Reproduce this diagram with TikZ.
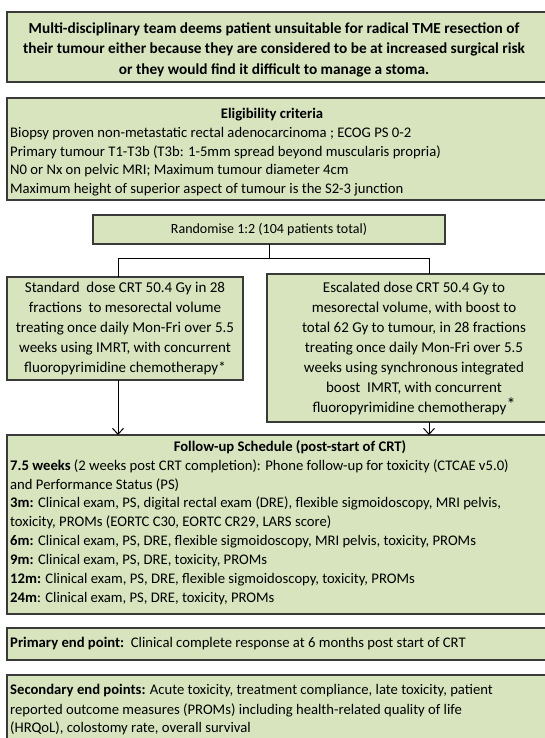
\documentclass[tikz,border=0pt]{standalone}
\usepackage{fontspec}
\setmainfont{Carlito}
\usetikzlibrary{arrows.meta,shadows}
\definecolor{boxgreen}{HTML}{D7E4BD}
\definecolor{boxline}{HTML}{3A3A3A}
\begin{document}
\begin{tikzpicture}[x=1pt,y=-1pt,
  box/.style={draw=boxline, line width=1.1pt, fill=boxgreen, anchor=north west, inner sep=0pt, outer sep=0pt,
    drop shadow={shadow xshift=-1.4pt, shadow yshift=-1.4pt, fill=black!65, opacity=1}},
  txt/.style={inner sep=0pt, font=\fontsize{14.67}{18.9}\selectfont},
  ctxt/.style={txt, align=center},
  btxt/.style={ctxt, font=\fontsize{15}{20}\selectfont},
  ltxt/.style={txt, align=left, anchor=west},
  link/.style={draw=black, line width=1pt},
  arr/.style={link, -{Straight Barb[length=6pt,width=11pt]}}]
\useasboundingbox (0,0) rectangle (545,738);
% boxes
\node[box, minimum width=541pt, minimum height=70pt] (mdt) at (7,12) {};
\node[box, minimum width=541pt, minimum height=102pt] (elig) at (7,98) {};
\node[box, minimum width=352pt, minimum height=29pt] (rand) at (93,215) {};
\node[box, minimum width=236pt, minimum height=103pt] (std) at (7,277) {};
\node[box, minimum width=301pt, minimum height=148pt] (esc) at (267,274) {};
\node[box, minimum width=541pt, minimum height=179pt] (fu) at (7,435) {};
\node[box, minimum width=541pt, minimum height=32pt] (prim) at (7,628) {};
\node[box, minimum width=541pt, minimum height=70pt] (sec) at (7,675) {};
% texts
\node[ctxt, font=\fontsize{15.3}{20.5}\selectfont\bfseries] (mdtt) at (274,49.5) {Multi-disciplinary team deems patient unsuitable for radical TME resection of\\their tumour either because they are considered to be at increased surgical risk\\or they would find it difficult to manage a stoma.};
\node[ctxt, font=\fontsize{14.67}{18.9}\selectfont\bfseries] (eligh) at (272,115) {Eligibility criteria};
\node[ltxt] (elig1) at (10,134) {Biopsy proven non-metastatic rectal adenocarcinoma ; ECOG PS 0-2};
\node[ltxt] (elig2) at (10,152.5) {Primary tumour T1-T3b (T3b: 1-5mm spread beyond muscularis propria)};
\node[ltxt] (elig3) at (10,171) {N0 or Nx on pelvic MRI; Maximum tumour diameter 4cm};
\node[ltxt] (elig4) at (10,189.5) {Maximum height of superior aspect of tumour is the S2-3 junction};
\node[ctxt, font=\fontsize{14}{16}\selectfont] (randt) at (269,229.5) {Randomise 1:2 (104 patients total)};
\node[btxt] (stdt) at (125,328.5) {Standard\ \ dose CRT 50.4 Gy in 28\\fractions\ \ to mesorectal volume\\treating once daily Mon-Fri over 5.5\\weeks using IMRT, with concurrent\\fluoropyrimidine chemotherapy*};
\node[btxt] (esct) at (414,348) {Escalated dose CRT 50.4 Gy to\\mesorectal volume, with boost to\\total 62 Gy to tumour, in 28 fractions\\treating once daily Mon-Fri over 5.5\\weeks using synchronous integrated\\boost\ \ IMRT, with concurrent\\fluoropyrimidine chemotherapy\raisebox{1.5pt}{\fontsize{18}{18}\selectfont *}};
\node[ctxt, font=\fontsize{14.67}{18.9}\selectfont\bfseries] (fuh) at (290,447) {Follow-up Schedule (post-start of CRT)};
\node[ltxt] (fu1) at (10,466) {\textbf{7.5 weeks} (2 weeks post CRT completion): Phone follow-up for toxicity (CTCAE v5.0)};
\node[ltxt] (fu2) at (10,484.9) {and Performance Status (PS)};
\node[ltxt] (fu3) at (10,503.8) {\textbf{3m:} Clinical exam, PS, digital rectal exam (DRE), flexible sigmoidoscopy, MRI pelvis,};
\node[ltxt] (fu4) at (10,522.7) {toxicity, PROMs (EORTC C30, EORTC CR29, LARS score)};
\node[ltxt] (fu5) at (10,541.6) {\textbf{6m:} Clinical exam, PS, DRE, flexible sigmoidoscopy, MRI pelvis, toxicity, PROMs};
\node[ltxt] (fu6) at (10,560.5) {\textbf{9m:} Clinical exam, PS, DRE, toxicity, PROMs};
\node[ltxt] (fu7) at (10,579.4) {\textbf{12m:} Clinical exam, PS, DRE, flexible sigmoidoscopy, toxicity, PROMs};
\node[ltxt] (fu8) at (10,598.3) {\textbf{24m}: Clinical exam, PS, DRE, toxicity, PROMs};
\node[ltxt] (primt) at (10,644) {\textbf{Primary end point:}\ \ Clinical complete response at 6 months post start of CRT};
\node[ltxt] (sec1) at (10,691) {\textbf{Secondary end points:} Acute toxicity, treatment compliance, late toxicity, patient};
\node[ltxt] (sec2) at (10,709.9) {reported outcome measures (PROMs) including health-related quality of life};
\node[ltxt] (sec3) at (10,728.8) {(HRQoL), colostomy rate, overall survival};
% connectors
\coordinate (jl) at (118,258);
\coordinate (jr) at (429,258);
\draw[link] (rand.south) -- (rand.south |- jl);
\draw[link] (jl) -- (jr);
\draw[link] (jl) -- (jl |- std.north);
\draw[link] (jr) -- (jr |- esc.north);
\draw[arr] (jl |- std.south) -- (jl |- fu.north);
\draw[arr] (jr |- esc.south) -- (jr |- fu.north);
\end{tikzpicture}
\end{document}
